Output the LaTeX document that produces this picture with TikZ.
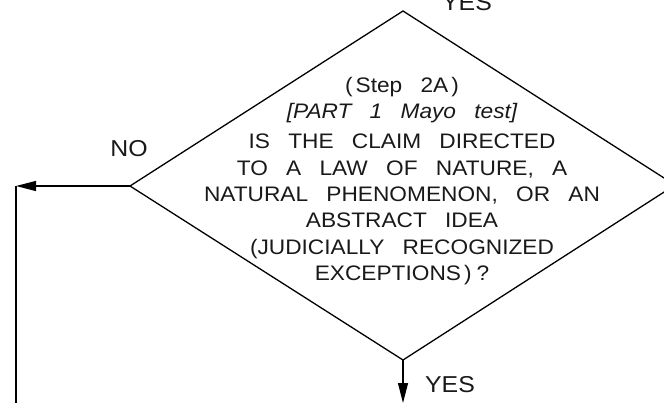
\documentclass[tikz,border=0pt]{standalone}
\usepackage{fontspec}
\setmainfont{Liberation Sans}
\newfontfamily\reffont[WordSpace=2.9,FakeStretch=1.08]{Liberation Sans}
\usetikzlibrary{arrows.meta}
\begin{document}
\begin{tikzpicture}[x=1pt,y=-1pt, line width=1.3pt,
  arrowline/.style={-{Triangle[length=20pt,width=10pt]}},
  txt/.style={font=\reffont\fontsize{21}{26.4}\selectfont, inner sep=0pt, text=black!90},
  lbl/.style={font=\reffont\fontsize{23}{26}\selectfont, inner sep=0pt, text=black!90}]
\useasboundingbox (0,0) rectangle (664,402);
\coordinate (T) at (403,11);
\coordinate (R) at (675,185);
\coordinate (B) at (403,360);
\coordinate (L) at (130,186);
\draw[line join=miter] (T) -- (R) -- (B) -- (L) -- cycle;
\coordinate (corner) at (16,186);
\coordinate (bottomend) at (16,410);
\coordinate (down) at (403,403);
\draw[arrowline] (L) -- (corner);
\draw (corner) -- (bottomend);
\draw[arrowline] (B) -- (down);
\node[txt, align=center, anchor=north] (question) at (402,77)
  {(\hspace{3pt}Step 2A\hspace{3pt})\\[-1pt]
   {\itshape [PART 1 Mayo test]}\\[4pt]
   IS THE CLAIM DIRECTED\\
   TO A LAW OF NATURE, A\\
   NATURAL PHENOMENON, OR AN\\
   ABSTRACT IDEA\\
   (JUDICIALLY RECOGNIZED\\
   EXCEPTIONS\hspace{3pt})\hspace{5pt}?};
\node[lbl, anchor=base] (no) at (129,156) {NO};
\node[lbl, anchor=base] (yesdown) at (450,392) {YES};
\node[lbl, anchor=base] (yesup) at (467,10) {YES};
\end{tikzpicture}
\end{document}
